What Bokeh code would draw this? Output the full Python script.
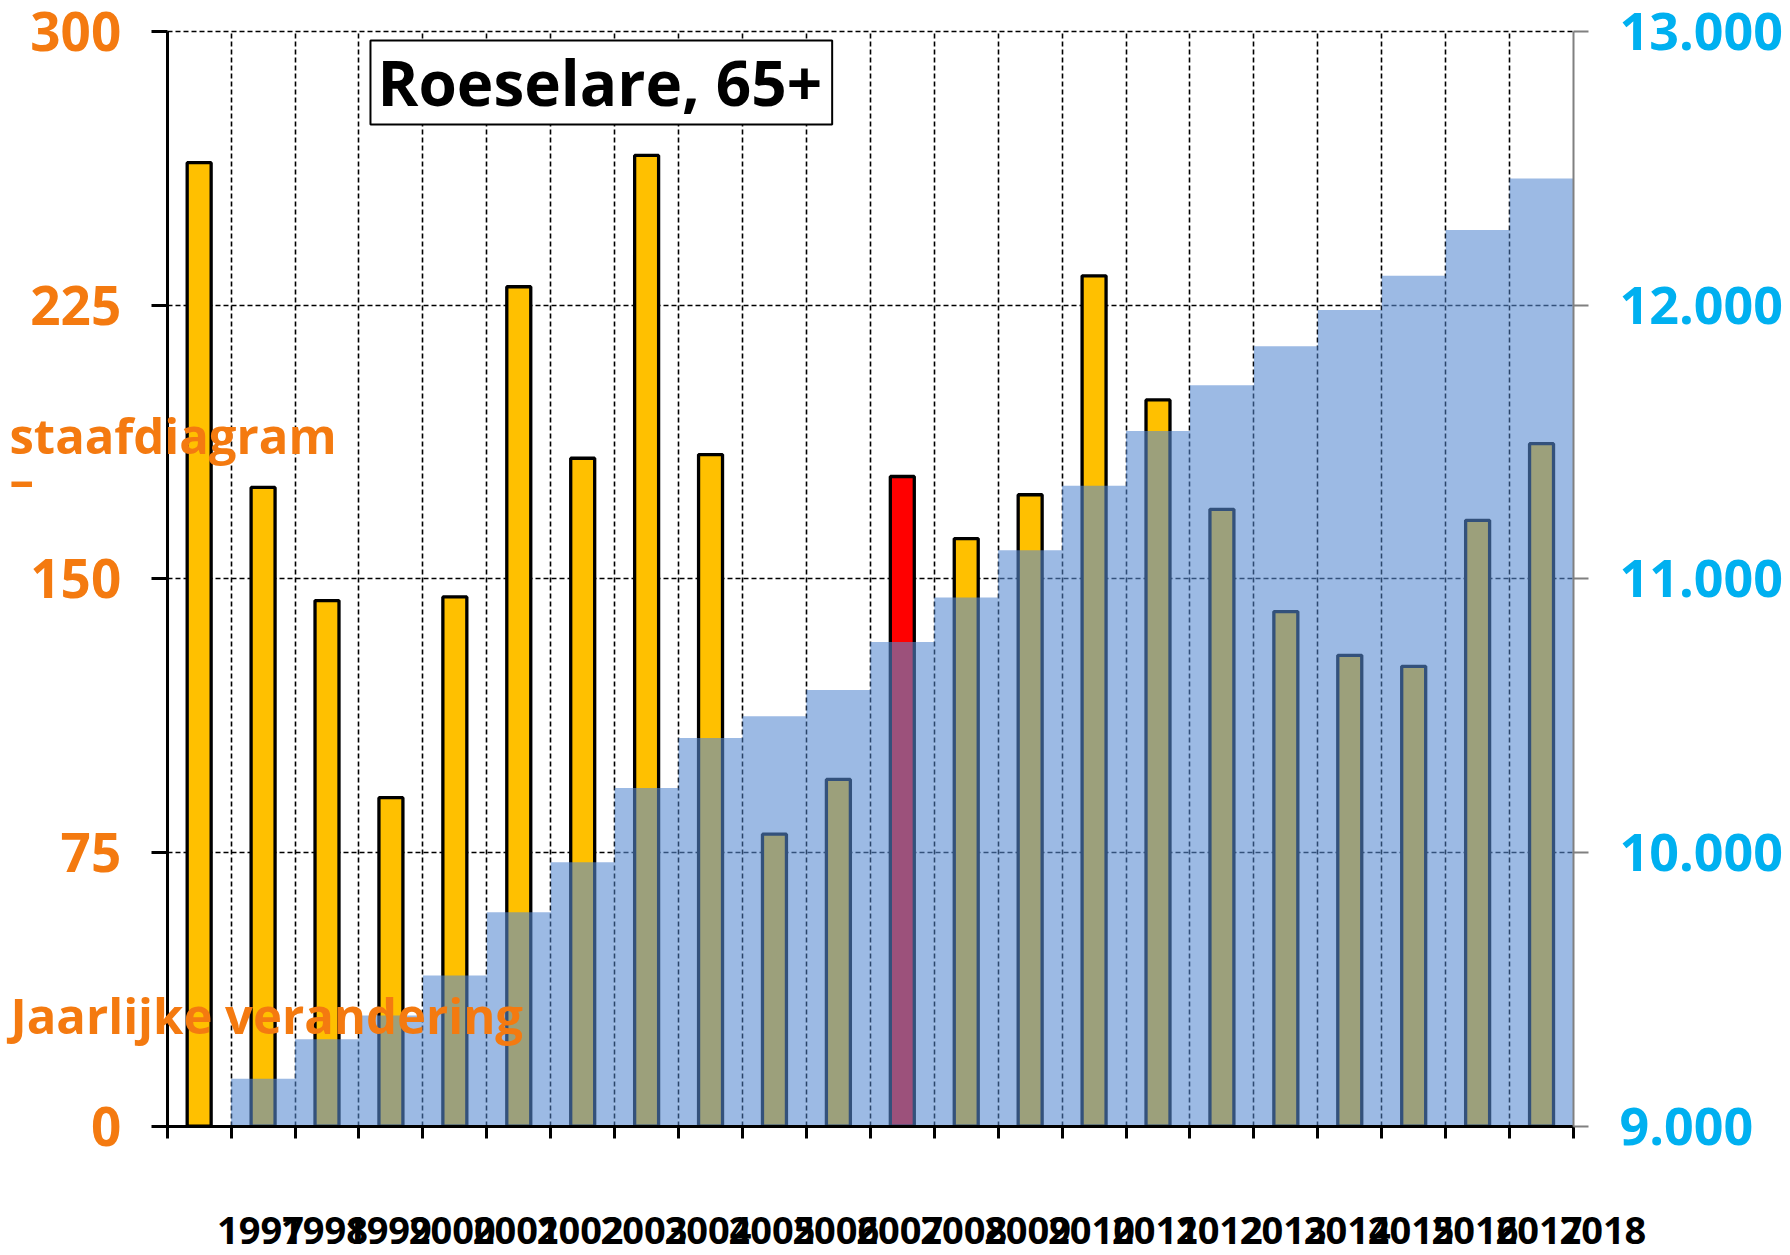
from bokeh.plotting import figure
from bokeh.models import (Range1d, LinearAxis, FixedTicker, ColumnDataSource, Label,
                          LabelSet, Grid)
from bokeh.core.properties import value
from bokeh.embed import file_html
from bokeh.resources import INLINE

# ---------------- data ----------------
years = [str(y) for y in range(1997, 2019)]
# yearly change (left axis, bars)
change = [264, 175, 144, 90, 145, 230, 183, 266, 184, 80, 95,
          178, 161, 173, 233, 199, 169, 141, 129, 126, 166, 187]
# total population 65+ (right axis, wide blue bars)
total_years = [str(y) for y in range(1998, 2019)]
total = [9173, 9317, 9404, 9550, 9781, 9964, 10235, 10418, 10497, 10593,
         10769, 10931, 11104, 11340, 11540, 11707, 11849, 11982, 12107, 12274, 12462]
highlight_year = "2008"
left_ticks = [0, 75, 150, 225, 300]
right_ticks = [9000, 10000, 11000, 12000, 13000]
right_tick_labels = ["9.000", "10.000", "11.000", "12.000", "13.000"]
title_text = "Roeselare, 65+"
side_texts = ["staafdiagram", "–", "Jaarlijke verandering"]

# ---------------- layout / style ----------------
W, H = 1790, 1255              # canvas == frame
X0_PX, X1_PX = 166.7, 1573.0   # canvas px of the plot area's left / right edge
Y0_PX, Y1_PX = 1125.6, 30.8    # canvas px of the plot area's bottom / top edge
n = len(years)
L0, L1 = left_ticks[0], left_ticks[-1]
R0, R1 = right_ticks[0], right_ticks[-1]
sx = (X1_PX - X0_PX) / n
sy = (Y0_PX - Y1_PX) / (L1 - L0)
x_start, x_end = -X0_PX / sx, (W - X0_PX) / sx
y_start, y_end = L0 - (H - Y0_PX) / sy, L1 + Y1_PX / sy
k = (R1 - R0) / (L1 - L0)
r_start, r_end = R0 + (y_start - L0) * k, R0 + (y_end - L0) * k

FONT = "Open Sans"
ORANGE = "#F47A10"
CYAN = "#00B0F0"
YELLOW = "#FFC000"
RED = "#FF0000"
BLUE = (86, 138, 209)
LABEL_SHIFT = 0.96          # x labels sit shifted right, as in the original
LABEL_Y = -32.4

xpos = [i + 0.5 for i in range(n)]

p = figure(width=W, height=H, x_range=Range1d(x_start, x_end),
           y_range=Range1d(y_start, y_end),
           x_axis_type=None, y_axis_type=None,
           output_backend="svg", toolbar_location=None, min_border=0)
p.outline_line_color = None
p.background_fill_color = "white"
p.border_fill_color = "white"
p.extra_y_ranges = {"right": Range1d(r_start, r_end)}

# grids, limited to the plot area
vgrid_ticks = list(range(1, n))
hgrid_ticks = left_ticks[1:]
GRID = dict(grid_line_color="black", grid_line_dash="5 3", grid_line_width=1.6)
if "cross_bounds" in Grid.properties():
    p.add_layout(Grid(dimension=0, ticker=FixedTicker(ticks=vgrid_ticks),
                      cross_bounds=(L0, L1), **GRID))
    p.add_layout(Grid(dimension=1, ticker=FixedTicker(ticks=hgrid_ticks),
                      cross_bounds=(0, n), **GRID))
else:
    p.segment(x0=vgrid_ticks, x1=vgrid_ticks, y0=[L0] * len(vgrid_ticks),
              y1=[L1] * len(vgrid_ticks), line_color="black", line_dash="5 3",
              line_width=1.6, level="underlay")
    p.segment(x0=[0] * len(hgrid_ticks), x1=[n] * len(hgrid_ticks), y0=hgrid_ticks,
              y1=hgrid_ticks, line_color="black", line_dash="5 3", line_width=1.6,
              level="underlay")

# yellow/red change bars
src = ColumnDataSource(dict(
    x=xpos, top=change,
    color=[RED if y == highlight_year else YELLOW for y in years]))
p.vbar(x="x", top="top", bottom=0, width=0.375, fill_color="color",
       line_color="black", line_width=3.3, source=src)

# blue total bars (semi-transparent, drawn on top)
src2 = ColumnDataSource(dict(x=[years.index(y) + 0.5 for y in total_years], top=total))
p.vbar(x="x", top="top", bottom=R0, width=1.0, y_range_name="right",
       fill_color=BLUE, fill_alpha=0.59, line_color=None, source=src2)

# left axis
ya = LinearAxis(ticker=FixedTicker(ticks=left_ticks), fixed_location=0, bounds=(L0, L1))
ya.axis_line_width = 3
ya.axis_line_color = "black"
ya.major_tick_out = 16
ya.major_tick_in = 0
ya.major_tick_line_width = 3
ya.minor_tick_line_color = None
ya.major_label_standoff = 30
ya.major_label_text_font = FONT
ya.major_label_text_font_style = "bold"
ya.major_label_text_font_size = "53px"
ya.major_label_text_color = ORANGE
p.add_layout(ya, "left")

# bottom axis: tick marks at category boundaries (as minor ticks, so no empty labels)
xa = LinearAxis(ticker=FixedTicker(ticks=[], minor_ticks=list(range(0, n + 1))),
                fixed_location=L0, bounds=(0, n))
xa.axis_line_width = 3
xa.axis_line_color = "black"
xa.major_tick_line_color = None
xa.minor_tick_line_color = "black"
xa.minor_tick_out = 12
xa.minor_tick_in = 0
xa.minor_tick_line_width = 3
p.add_layout(xa, "below")

# right axis
ra = LinearAxis(y_range_name="right", ticker=FixedTicker(ticks=right_ticks),
                major_label_overrides=dict(zip(right_ticks, right_tick_labels)),
                fixed_location=n, bounds=(R0, R1))
ra.axis_line_color = "#808080"
ra.axis_line_width = 2
ra.major_tick_out = 15
ra.major_tick_in = 0
ra.major_tick_line_color = "#808080"
ra.major_tick_line_width = 2
ra.minor_tick_line_color = None
ra.major_label_standoff = 31
ra.major_label_text_font = FONT
ra.major_label_text_font_style = "bold"
ra.major_label_text_font_size = "52px"
ra.major_label_text_color = CYAN
p.add_layout(ra, "right")

# year labels (shifted right, overlapping, as in the original)
lsrc = ColumnDataSource(dict(x=[x + LABEL_SHIFT for x in xpos], text=years))
p.add_layout(LabelSet(x="x", y=LABEL_Y, text="text", source=lsrc,
                      text_font=value(FONT), text_font_style="bold",
                      text_font_size="38px", text_color="black",
                      text_align="center", text_baseline="alphabetic"))

# title box
p.add_layout(Label(x=3.18, y=286.0, text=title_text, text_font=FONT,
                   text_font_style="bold", text_font_size="62px",
                   text_color="black", text_align="left", text_baseline="middle",
                   border_line_color="black", border_line_width=2,
                   background_fill_color="white",
                   padding=dict(left=7, right=10, top=0, bottom=0)))

# orange side texts
for txt, xx, yy in zip(side_texts, (-2.467, -2.467, -2.451), (189.5, 177.7, 30.5)):
    p.add_layout(Label(x=xx, y=yy, text=txt, text_font=FONT, text_font_style="bold",
                       text_font_size="49px", text_color=ORANGE,
                       text_align="left", text_baseline="alphabetic"))

open("out.html", "w").write(file_html(p, INLINE))
